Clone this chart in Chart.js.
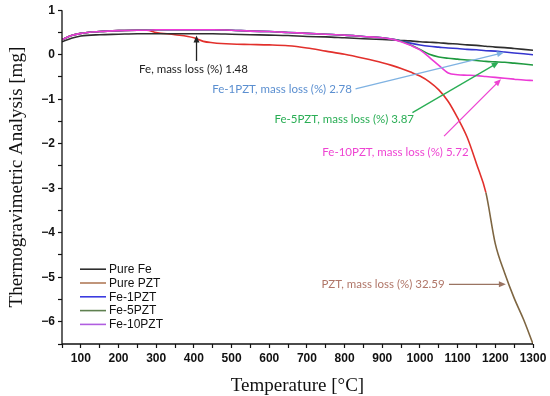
<!DOCTYPE html>
<html><head><meta charset="utf-8">
<script src="https://cdn.jsdelivr.net/npm/chart.js@4/dist/chart.umd.min.js"></script>
<style>html,body{margin:0;padding:0;background:#fff}#wrap{width:550px;height:396px}</style>
</head><body><div id="wrap"><canvas id="c" width="550" height="396"></canvas></div>
<script>
// Temperatures (°C)
const temps = [50,75,100,150,200,250,275,300,350,400,425,450,500,550,600,650,700,750,800,850,900,925,950,975,1000,1025,1050,1075,1100,1125,1150,1175,1200,1225,1250,1275,1300];
// Series (mg)
const pureFe  = [0.29,0.37,0.42,0.45,0.46,0.47,0.47,0.47,0.47,0.47,0.47,0.47,0.46,0.45,0.44,0.43,0.41,0.40,0.38,0.36,0.34,0.33,0.32,0.31,0.29,0.28,0.27,0.25,0.24,0.22,0.21,0.19,0.17,0.16,0.14,0.12,0.10];
const purePZT = [0.34,0.43,0.48,0.52,0.54,0.55,0.55,0.50,0.45,0.38,0.30,0.27,0.24,0.23,0.22,0.20,0.15,0.08,0.01,-0.08,-0.18,-0.24,-0.31,-0.39,-0.48,-0.61,-0.79,-1.05,-1.42,-1.85,-2.45,-3.10,-4.25,-4.91,-5.47,-5.95,-6.50];
const fe1PZT  = [0.34,0.43,0.48,0.52,0.54,0.55,0.55,0.56,0.56,0.56,0.56,0.56,0.55,0.53,0.52,0.50,0.48,0.46,0.44,0.41,0.38,0.35,0.31,0.26,0.22,0.19,0.17,0.15,0.14,0.12,0.11,0.09,0.08,0.06,0.04,0.02,0.00];
const fe5PZT  = [0.34,0.43,0.48,0.52,0.54,0.55,0.55,0.56,0.56,0.56,0.56,0.56,0.55,0.53,0.52,0.50,0.48,0.46,0.44,0.41,0.38,0.35,0.30,0.22,0.12,0.01,-0.05,-0.08,-0.10,-0.12,-0.13,-0.15,-0.16,-0.17,-0.19,-0.21,-0.23];
const fe10PZT = [0.34,0.43,0.48,0.52,0.54,0.55,0.55,0.56,0.56,0.56,0.56,0.56,0.55,0.53,0.52,0.50,0.48,0.46,0.44,0.41,0.38,0.35,0.29,0.21,0.11,-0.06,-0.24,-0.41,-0.45,-0.46,-0.47,-0.49,-0.51,-0.53,-0.55,-0.57,-0.58];
const seriesNames = ['Pure Fe','Pure PZT','Fe-1PZT','Fe-5PZT','Fe-10PZT'];
// Annotations: text, text anchor (temp, value), arrow from -> to (temp, value)
const noteTexts  = ['Fe, mass loss (%) 1.48','Fe-1PZT, mass loss (%) 2.78','Fe-5PZT, mass loss (%) 3.87','Fe-10PZT, mass loss (%) 5.72','PZT, mass loss (%) 32.59'];
const noteAt     = [[399,-0.32],[634,-0.77],[799,-1.45],[935,-2.19],[902,-5.16]];
const arrowFrom  = [[407,-0.14],[829,-0.77],[980,-1.30],[1064,-1.83],[1077,-5.16]];
const arrowTo    = [[407,0.43],[1223,0.05],[1209,-0.17],[1215,-0.55],[1228,-5.16]];

const lineColors   = ['#2e2e2e','#e2302c','#3535cf','#1f9a40','#ec3ad6'];
const legendColors = ['#2e2e2e','#b07a58','#3c3ce0','#5f8050','#b05ee0'];
const noteColors   = ['#222222','#5b8fd0','#2aae55','#ee44d2','#b07668'];
const arrowColors  = ['#222222','#7fb2e2','#2aae55','#ee44d2','#9a7462'];
const pztLow = '#7e6642';

const allSeries = [pureFe, purePZT, fe1PZT, fe5PZT, fe10PZT];
const datasets = allSeries.map((s,i)=>({
  label: seriesNames[i],
  data: temps.map((t,j)=>({x:t,y:s[j]})),
  borderColor: lineColors[i],
  borderWidth: 1.6,
  pointRadius: 0,
  tension: 0.35,
  cubicInterpolationMode: 'monotone',
  fill: false,
  segment: i===1 ? {borderColor: ctx => ctx.p1.parsed.y < -3.2 ? pztLow : lineColors[1]} : undefined
}));
datasets.forEach((d,i)=>{ d.order = [3,4,2,1,0][i]; });

const overlay = {
  id:'overlay',
  afterDatasetsDraw(chart){
    const {ctx, scales:{x,y}, chartArea:a} = chart;
    ctx.save();
    ctx.font = '11.5px Lato';
    ctx.textAlign = 'center'; ctx.textBaseline = 'middle';
    noteTexts.forEach((t,i)=>{
      ctx.fillStyle = noteColors[i];
      ctx.fillText(t, x.getPixelForValue(noteAt[i][0]), y.getPixelForValue(noteAt[i][1]));
      const x1=x.getPixelForValue(arrowFrom[i][0]), y1=y.getPixelForValue(arrowFrom[i][1]);
      const x2=x.getPixelForValue(arrowTo[i][0]), y2=y.getPixelForValue(arrowTo[i][1]);
      ctx.strokeStyle = arrowColors[i]; ctx.fillStyle = arrowColors[i]; ctx.lineWidth = 1.3;
      const ang = Math.atan2(y2-y1, x2-x1), hl = 7, hw = 3;
      ctx.beginPath(); ctx.moveTo(x1,y1); ctx.lineTo(x2-Math.cos(ang)*hl*0.8, y2-Math.sin(ang)*hl*0.8); ctx.stroke();
      ctx.beginPath();
      ctx.moveTo(x2,y2);
      ctx.lineTo(x2-hl*Math.cos(ang)+hw*Math.sin(ang), y2-hl*Math.sin(ang)-hw*Math.cos(ang));
      ctx.lineTo(x2-hl*Math.cos(ang)-hw*Math.sin(ang), y2-hl*Math.sin(ang)+hw*Math.cos(ang));
      ctx.closePath(); ctx.fill();
    });
    // legend
    ctx.font = '12px "Liberation Sans"';
    ctx.textAlign = 'left';
    const lx = a.left + 18, ly0 = a.top + 259, dy = 13.8;
    seriesNames.forEach((n,i)=>{
      const yy = ly0 + i*dy;
      ctx.strokeStyle = legendColors[i]; ctx.lineWidth = 1.6;
      ctx.beginPath(); ctx.moveTo(lx, yy); ctx.lineTo(lx+26, yy); ctx.stroke();
      ctx.fillStyle = '#111';
      ctx.fillText(n, lx+29, yy+0.5);
    });
    ctx.strokeStyle = '#111'; ctx.lineWidth = 1.3;
    ctx.beginPath(); ctx.moveTo(a.left, a.top); ctx.lineTo(a.left, a.bottom); ctx.lineTo(a.right, a.bottom); ctx.stroke();
    ctx.restore();
  }
};

const minus = v => String(v).replace('-', '\u2212');
new Chart(document.getElementById('c'), {
  type:'line',
  data:{datasets},
  options:{
    responsive:false, animation:false,
    layout:{padding:{top:10,right:17,left:0,bottom:0}},
    plugins:{legend:{display:false}, tooltip:{enabled:false}},
    scales:{
      x:{type:'linear', min:50, max:1300,
        afterFit(s){ s.height = 52; },
        border:{display:false},
        grid:{drawOnChartArea:false, drawTicks:true, tickLength:4, color:'#111', tickWidth:1.2},
        ticks:{stepSize:50, autoSkip:false, maxRotation:0, padding:3, color:'#111',
          font:{family:'"Liberation Sans"', weight:'bold', size:12},
          callback:v => v%100===0 ? v : ''},
        title:{display:true, text:'Temperature [°C]', color:'#111', padding:{top:8,bottom:0},
          font:{family:'"Liberation Serif"', size:19, lineHeight:1}}
      },
      y:{type:'linear', min:-6.5, max:1,
        afterFit(s){ s.width = 62; },
        border:{display:false},
        grid:{drawOnChartArea:false, drawTicks:true, tickLength:4, color:'#111', tickWidth:1.2},
        ticks:{stepSize:0.5, autoSkip:false, padding:3, color:'#111',
          font:{family:'"Liberation Sans"', weight:'bold', size:12},
          callback:v => Number.isInteger(v) ? minus(v) : ''},
        title:{display:true, text:'Thermogravimetric Analysis [mg]', color:'#111', padding:{top:6,bottom:4},
          font:{family:'"Liberation Serif"', size:19}}
      }
    }
  },
  plugins:[overlay]
});
</script></body></html>
